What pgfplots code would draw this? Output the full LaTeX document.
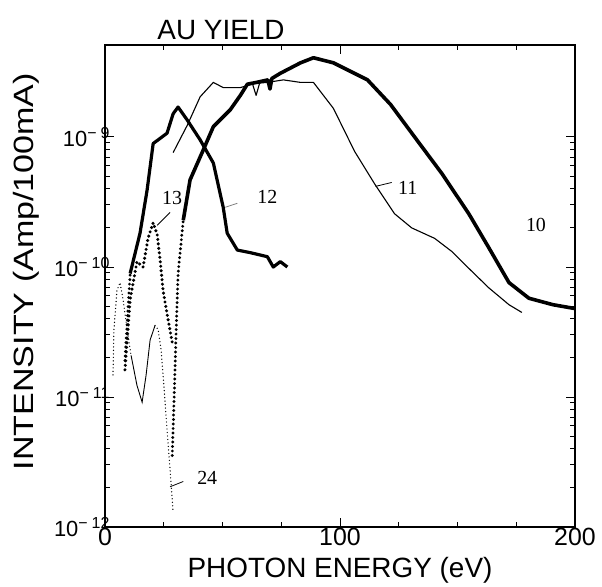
\documentclass[border=0pt]{standalone}
\usepackage{fontspec}
\setmainfont{Liberation Sans}
\newfontfamily\serifnum{Liberation Serif}
\usepackage{graphicx}
\usepackage{pgfplots}
\pgfplotsset{compat=1.18}
\newcommand{\tl}[1]{10\raisebox{7.5bp}{\fontsize{16}{16}\selectfont −\kern4bp#1}}
\begin{document}
\begin{tikzpicture}
\begin{axis}[
  scale only axis, width=470bp, height=482bp,
  xmin=0, xmax=200, ymode=log, ymin=1e-12, ymax=5.1e-9,
  xtick={0,100,200}, xticklabels={0,100,200}, minor x tick num=3,
  ytick={1e-12,1e-11,1e-10,1e-9},
  yticklabels={\tl{12},\tl{11},\tl{10},\tl{9}},
  xticklabel style={font=\fontsize{25}{25}\selectfont, yshift=2bp},
  yticklabel style={font=\fontsize{22}{22}\selectfont, xshift=8bp},
  axis line style={line width=1.3bp},
  every tick/.style={line width=1bp, black},
  major tick length=9bp, minor tick length=5bp,
  tick align=inside,
  xlabel={PHOTON ENERGY (eV)},
  xlabel style={font=\fontsize{28}{28}\selectfont, at={(axis description cs:0.5,0)}, anchor=base, yshift=-50bp},
  ylabel={\scalebox{1.22}[1]{INTENSITY (Amp/100mA)}},
  ylabel style={font=\fontsize{28}{28}\selectfont, at={(axis description cs:-0.153,0.53)}, anchor=base, rotate=0},
]
% curve 10 (thick), dotted start
\addplot[black, line width=3.2bp, line cap=round, dash pattern=on 0pt off 4.5bp] coordinates {
(28.6,3.55e-12)(29.4,9.55e-12)(30.3,3.31e-11)(31.1,8.91e-11)(33.3,2.29e-10)};
\addplot[black, line width=3.6bp, line join=round] coordinates {
(33.3,2.29e-10)(36.2,4.68e-10)(41.8,7.94e-10)(46.1,1.20e-9)(53.3,1.62e-9)(57.6,2.09e-9)
(60.6,2.55e-9)(64.5,2.63e-9)(69.3,2.75e-9)(70.2,2.34e-9)(71.0,2.82e-9)
(74.6,3.09e-9)(83.2,3.72e-9)(88.7,4.07e-9)(97.2,3.72e-9)(111.7,2.75e-9)(121.5,1.78e-9)
(133.0,9.33e-10)(143.3,5.25e-10)(154.8,2.57e-10)(163.3,1.41e-10)(171.9,7.59e-11)
(180.4,5.75e-11)(190.6,5.13e-11)(200,4.79e-11)};
% curve 11 (thin)
\addplot[black, line width=1.1bp, line join=round] coordinates {
(29.0,7.59e-10)(35.0,1.23e-9)(40.5,2.04e-9)(46.1,2.63e-9)(50.3,2.40e-9)(57.6,2.40e-9)
(62.8,2.55e-9)(64.3,2.09e-9)(65.8,2.60e-9)
(69.1,2.63e-9)(75.9,2.75e-9)(83.2,2.63e-9)(88.7,2.63e-9)(97.2,1.66e-9)(106.2,7.76e-10)
(114.7,4.37e-10)(123.2,2.57e-10)(130.5,2.00e-10)(140.3,1.66e-10)(147.5,1.32e-10)
(154.8,9.77e-11)(163.3,6.92e-11)(171.9,5.13e-11)(177.4,4.47e-11)};
% curve 12 (thick)
\addplot[black, line width=3.2bp, line cap=round, dash pattern=on 0pt off 4.5bp] coordinates {
(8.5,1.91e-11)(10.7,8.91e-11)};
\addplot[black, line width=3.2bp, line join=round] coordinates {
(10.7,8.91e-11)(14.9,1.82e-10)(17.9,3.89e-10)(20.5,8.91e-10)(23.5,9.77e-10)(26.4,1.07e-9)
(29.0,1.51e-9)(31.1,1.70e-9)(35.0,1.35e-9)(40.5,9.5e-10)(46.1,6.31e-10)(50.3,2.88e-10)
(52.0,1.82e-10)(56.3,1.35e-10)(61.8,1.29e-10)(69.1,1.20e-10)(71.6,1.00e-10)(74.6,1.10e-10)(77.6,1.00e-10)};
% curve 13 (bold dotted)
\addplot[black, line width=3.4bp, line cap=round, dash pattern=on 0pt off 4.5bp] coordinates {
(8.5,1.62e-11)(10.7,5.62e-11)(13.6,1.10e-10)(16.2,1.00e-10)(18.3,1.66e-10)(20.5,2.19e-10)
(22.2,1.78e-10)(23.5,1.12e-10)(24.7,6.61e-11)(26.9,3.89e-11)(28.6,2.63e-11)};
% curve 24 (thin, dotted ends)
\addplot[black, line width=1.4bp, line cap=round, dash pattern=on 0pt off 3.5bp] coordinates {
(3.4,1.48e-11)(3.8,3.31e-11)(5.1,6.61e-11)(6.4,7.59e-11)(7.7,5.62e-11)(9.4,3.31e-11)(11.1,2.09e-11)};
\addplot[black, line width=0.9bp] coordinates {
(11.1,2.09e-11)(13.6,1.23e-11)(15.8,9.12e-12)(17.5,1.48e-11)(19.2,2.75e-11)(21.3,3.55e-11)};
\addplot[black, line width=1.4bp, line cap=round, dash pattern=on 0pt off 3.5bp] coordinates {
(21.3,3.55e-11)(22.6,3.31e-11)(23.9,2.29e-11)(25.2,1.12e-11)(26.4,5.62e-12)(27.7,2.75e-12)(29.0,1.29e-12)};
% labels
\node[font=\serifnum\fontsize{20}{20}\selectfont] at (axis cs:28.6,3.39e-10) {13};
\draw[line width=0.8bp] (axis cs:27.7,2.63e-10) -- (axis cs:22.2,2.09e-10);
\node[font=\serifnum\fontsize{20}{20}\selectfont] at (axis cs:69.1,3.47e-10) {12};
\draw[line width=0.8bp, gray] (axis cs:56.3,3.09e-10) -- (axis cs:51.2,2.88e-10);
\node[font=\serifnum\fontsize{20}{20}\selectfont] at (axis cs:128.8,4.07e-10) {11};
\draw[line width=0.8bp] (axis cs:122,4.47e-10) -- (axis cs:115.1,4.17e-10);
\node[font=\serifnum\fontsize{20}{20}\selectfont] at (axis cs:183.4,2.09e-10) {10};
\node[font=\serifnum\fontsize{20}{20}\selectfont] at (axis cs:43.5,2.40e-12) {24};
\draw[line width=0.8bp] (axis cs:33.3,2.24e-12) -- (axis cs:27.7,2.04e-12);
\end{axis}
\node[font=\fontsize{28}{28}\selectfont, anchor=base] at ([xshift=116bp,yshift=5bp]current axis.north west) {AU YIELD};
\path ([xshift=-105bp,yshift=-57bp]current axis.south west) rectangle ([xshift=27bp,yshift=45bp]current axis.north east);
\end{tikzpicture}
\end{document}
